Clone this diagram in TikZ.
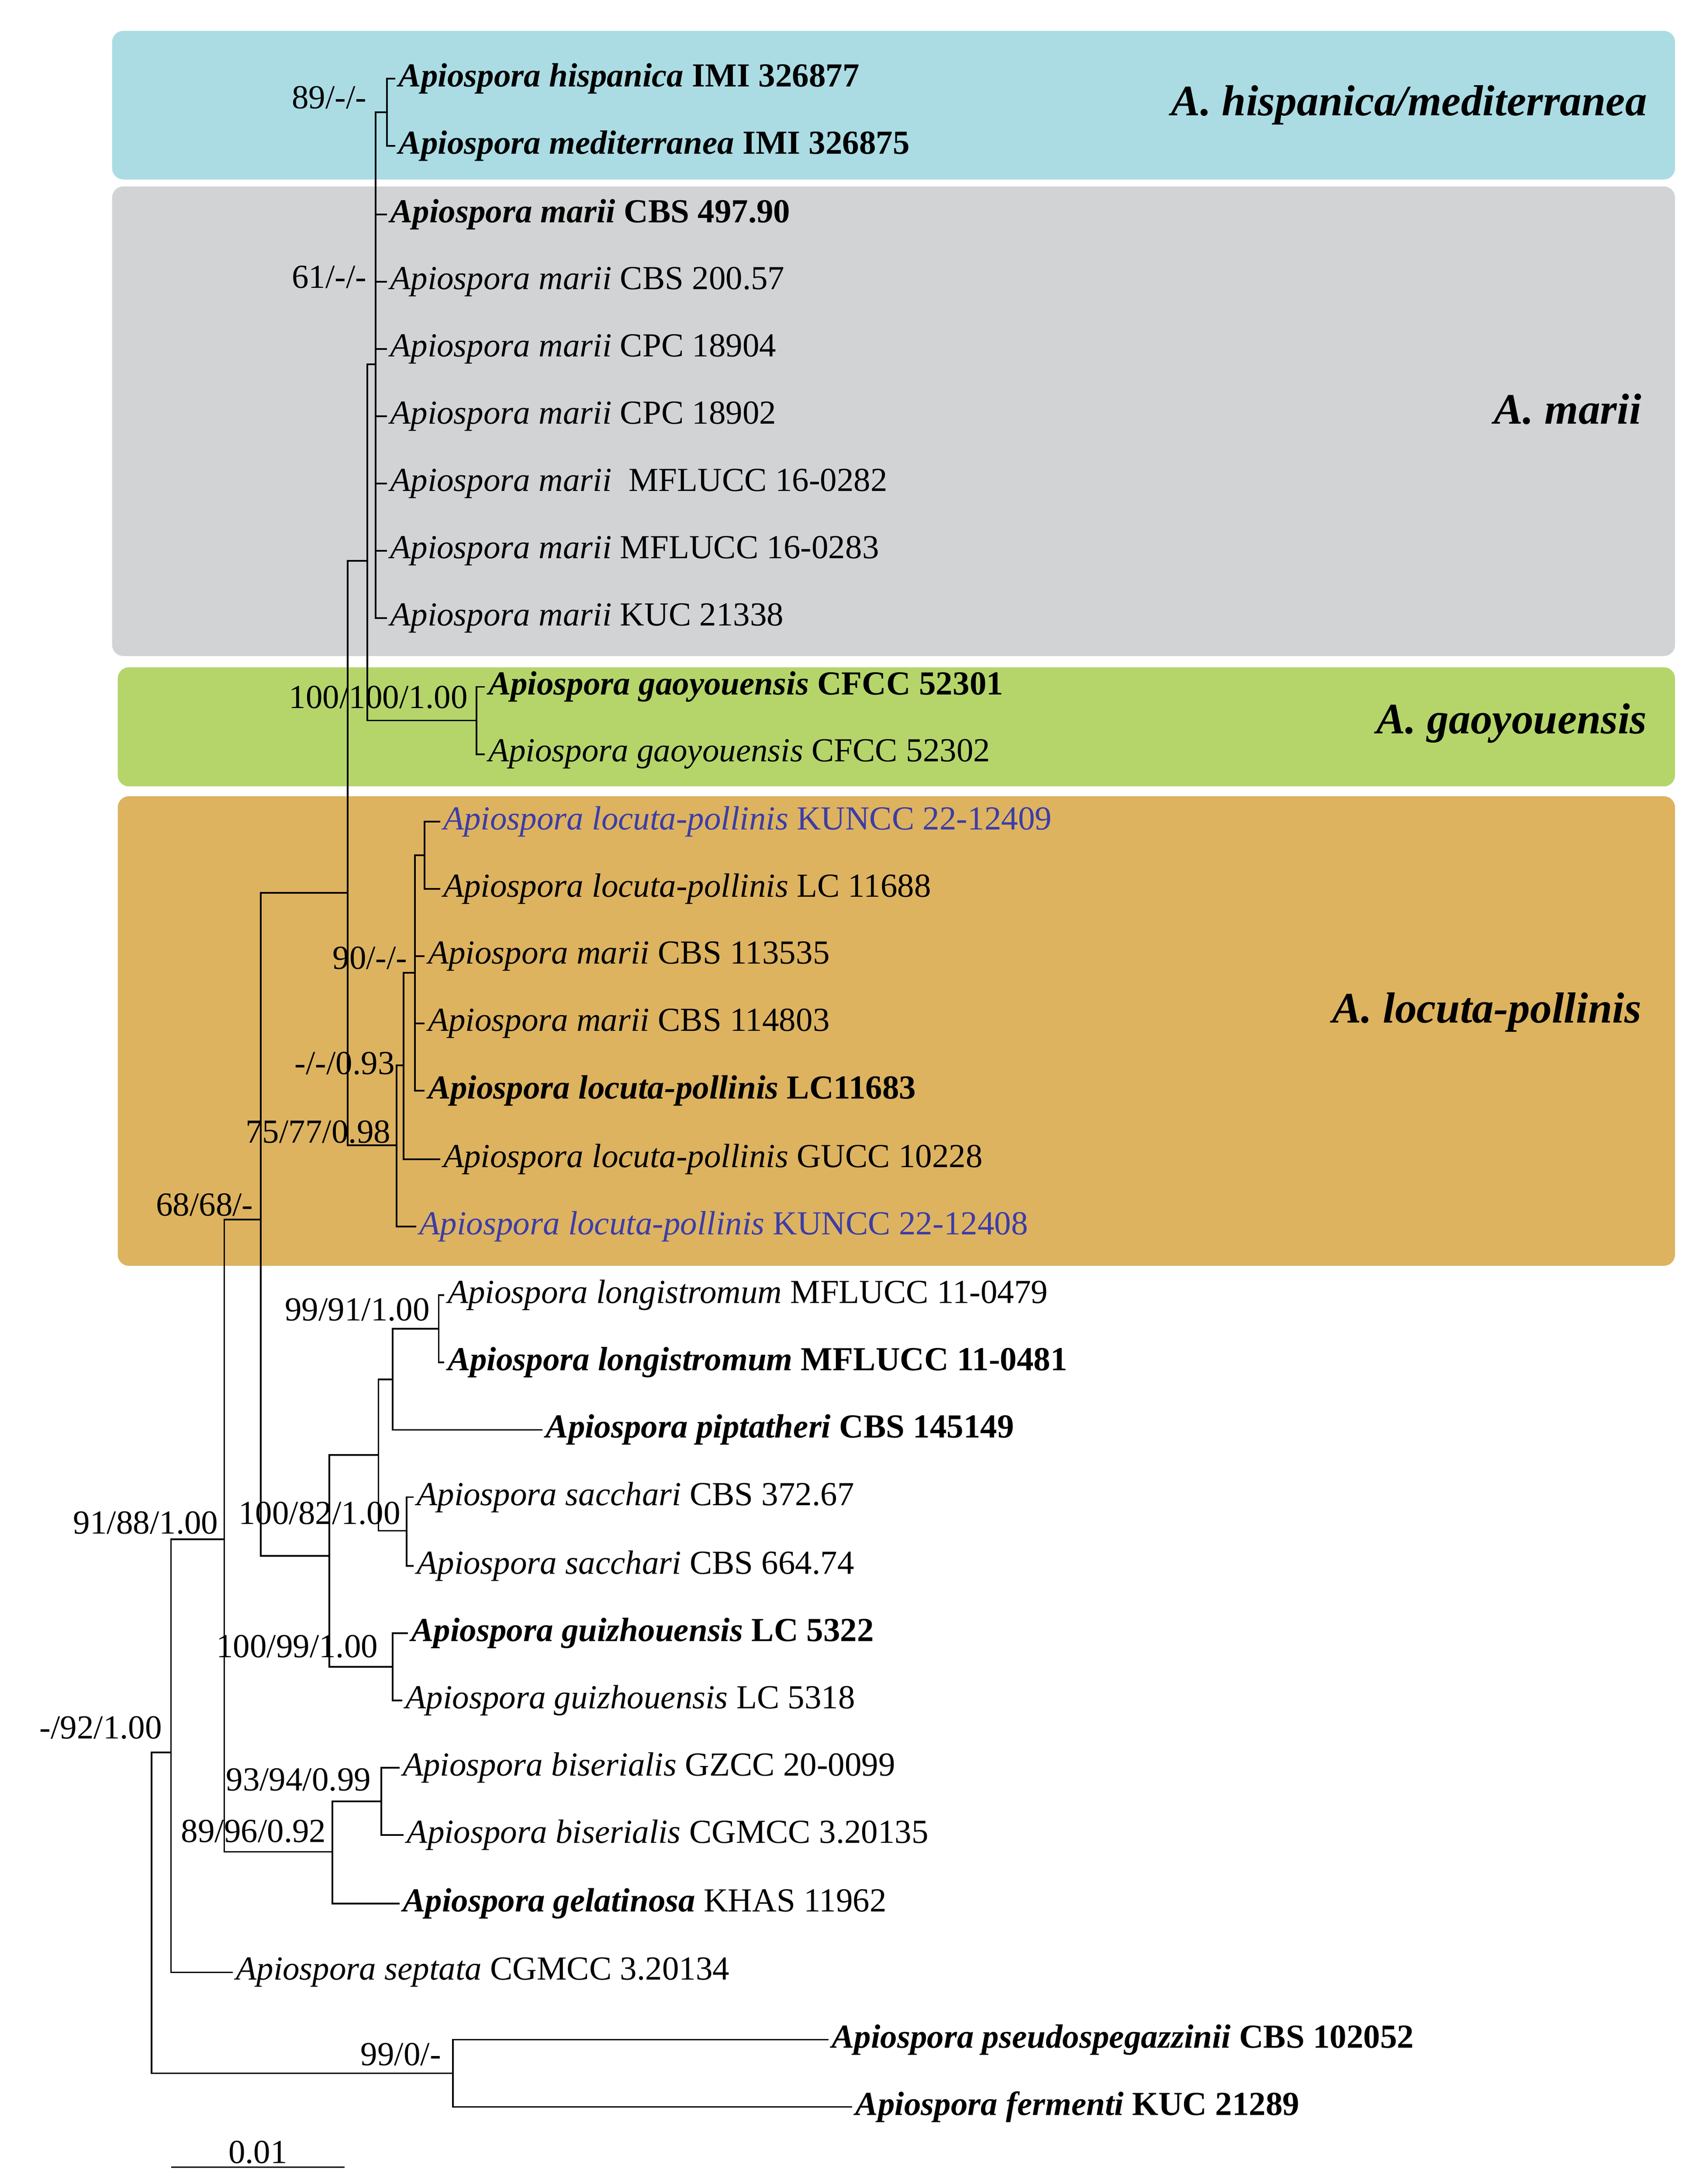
\documentclass[tikz,border=0pt]{standalone}
\usepackage{fontspec}
\setmainfont{Liberation Serif}
\usetikzlibrary{calc, positioning}
\definecolor{cladecyan}{HTML}{ABDCE4}
\definecolor{cladegray}{HTML}{D1D3D4}
\definecolor{cladegreen}{HTML}{B5D56B}
\definecolor{cladeorange}{HTML}{DDB360}
\definecolor{newblue}{HTML}{3C3CA8}
\tikzset{
  % tip label style
  tip/.style={
    anchor=west
    , inner sep=1pt
    , font=\fontsize{12}{14}\selectfont
  },
}
\tikzset{
  % support value style
  supp/.style={
    anchor=south east
    , inner sep=1pt
    , font=\fontsize{12}{14}\selectfont
  },
}
\tikzset{
  % clade box style
  cbox/.style={
    rounded corners=4pt
    , draw=none
  },
  clab/.style={
    anchor=east
    , font=\fontsize{15.5}{18}\selectfont\bfseries\itshape
  },
  br/.style={
    line width=0.6pt
  },
}
\newcommand{\Ap}[1]{\textit{Apiospora #1}}
\begin{document}
\begin{tikzpicture}[x=0.5pt,y=-0.5pt]
  \useasboundingbox (0,0) rectangle (1217,1558);
  % clade boxes
  \fill[cbox, cladecyan] (80,22) rectangle (1195,128);
  \fill[cbox, cladegray] (80,133) rectangle (1195,468);
  \fill[cbox, cladegreen] (84,476) rectangle (1195,561);
  \fill[cbox, cladeorange] (84,568) rectangle (1195,903);
  \node[clab] (lh) at (1182,75) {A. hispanica/mediterranea};
  \node[clab] (lm) at (1178,292) {A. marii};
  \node[clab] (lg) at (1182,516) {A. gaoyouensis};
  \node[clab] (ll) at (1178,722) {A. locuta-pollinis};
  % tips
  \node[tip] (t1) at (282,56) {\textbf{\Ap{hispanica} IMI 326877}};
  \node[tip] (t2) at (282,104) {\textbf{\Ap{mediterranea} IMI 326875}};
  \node[tip] (t3) at (276,153) {\textbf{\Ap{marii} CBS 497.90}};
  \node[tip] (t4) at (276,201) {\Ap{marii} CBS 200.57};
  \node[tip] (t5) at (276,249) {\Ap{marii} CPC 18904};
  \node[tip] (t6) at (276,297) {\Ap{marii} CPC 18902};
  \node[tip] (t7) at (276,345) {\Ap{marii} \ MFLUCC 16-0282};
  \node[tip] (t8) at (276,393) {\Ap{marii} MFLUCC 16-0283};
  \node[tip] (t9) at (276,441) {\Ap{marii} KUC 21338};
  \node[tip] (t10) at (346,490) {\textbf{\Ap{gaoyouensis} CFCC 52301}};
  \node[tip] (t11) at (346,538) {\Ap{gaoyouensis} CFCC 52302};
  \node[tip, text=newblue] (t12) at (314,586) {\Ap{locuta-pollinis} KUNCC 22-12409};
  \node[tip] (t13) at (314,634) {\Ap{locuta-pollinis} LC 11688};
  \node[tip] (t14) at (303,682) {\Ap{marii} CBS 113535};
  \node[tip] (t15) at (303,730) {\Ap{marii} CBS 114803};
  \node[tip] (t16) at (303,778) {\textbf{\Ap{locuta-pollinis} LC11683}};
  \node[tip] (t17) at (314,827) {\Ap{locuta-pollinis} GUCC 10228};
  \node[tip, text=newblue] (t18) at (297,875) {\Ap{locuta-pollinis} KUNCC 22-12408};
  \node[tip] (t19) at (317,924) {\Ap{longistromum} MFLUCC 11-0479};
  \node[tip] (t20) at (317,972) {\textbf{\Ap{longistromum} MFLUCC 11-0481}};
  \node[tip] (t21) at (387,1020) {\textbf{\Ap{piptatheri} CBS 145149}};
  \node[tip] (t22) at (295,1068) {\Ap{sacchari} CBS 372.67};
  \node[tip] (t23) at (295,1117) {\Ap{sacchari} CBS 664.74};
  \node[tip] (t24) at (291,1165) {\textbf{\Ap{guizhouensis} LC 5322}};
  \node[tip] (t25) at (287,1213) {\Ap{guizhouensis} LC 5318};
  \node[tip] (t26) at (285,1261) {\Ap{biserialis} GZCC 20-0099};
  \node[tip] (t27) at (288,1309) {\Ap{biserialis} CGMCC 3.20135};
  \node[tip] (t28) at (285,1358) {\textbf{\Ap{gelatinosa}} KHAS 11962};
  \node[tip] (t29) at (166,1407) {\Ap{septata} CGMCC 3.20134};
  \node[tip] (t30) at (591,1455) {\textbf{\Ap{pseudospegazzinii} CBS 102052}};
  \node[tip] (t31) at (608,1503) {\textbf{\Ap{fermenti} KUC 21289}};
  % internal nodes
  \coordinate (nH) at (276,80);
  \coordinate (nM) at (268,260);
  \coordinate (nG) at (340,514);
  \coordinate (nMG) at (262,400);
  \coordinate (nL1) at (303,610);
  \coordinate (nL2) at (296,694);
  \coordinate (nL3) at (288,760);
  \coordinate (nL4) at (283,817);
  \coordinate (nUp) at (248,637);
  \coordinate (nLG) at (313,948);
  \coordinate (nP) at (280,984);
  \coordinate (nS) at (290,1092);
  \coordinate (nPS) at (270,1038);
  \coordinate (nGu) at (280,1189);
  \coordinate (nC) at (235,1110);
  \coordinate (nA) at (186,870);
  \coordinate (nB) at (272,1285);
  \coordinate (nBG) at (237,1321);
  \coordinate (nD) at (160,1098);
  \coordinate (nE) at (122,1250);
  \coordinate (nF) at (323,1479);
  \coordinate (nR) at (108,1380);
  % branches
  \draw[br] (t1.west) -| (nH); \draw[br] (t2.west) -| (nH);
  \draw[br] (nH) -| (nM);
  \foreach \t in {t3,t4,t5,t6,t7,t8,t9} { \draw[br] (\t.west) -| (nM); }
  \draw[br] (t10.west) -| (nG); \draw[br] (t11.west) -| (nG);
  \draw[br] (nM) -| (nMG); \draw[br] (nG) -| (nMG);
  \draw[br] (t12.west) -| (nL1); \draw[br] (t13.west) -| (nL1);
  \draw[br] (nL1) -| (nL2);
  \foreach \t in {t14,t15,t16} { \draw[br] (\t.west) -| (nL2); }
  \draw[br] (nL2) -| (nL3); \draw[br] (t17.west) -| (nL3);
  \draw[br] (nL3) -| (nL4); \draw[br] (t18.west) -| (nL4);
  \draw[br] (nMG) -| (nUp); \draw[br] (nL4) -| (nUp);
  \draw[br] (t19.west) -| (nLG); \draw[br] (t20.west) -| (nLG);
  \draw[br] (nLG) -| (nP); \draw[br] (t21.west) -| (nP);
  \draw[br] (t22.west) -| (nS); \draw[br] (t23.west) -| (nS);
  \draw[br] (nP) -| (nPS); \draw[br] (nS) -| (nPS);
  \draw[br] (t24.west) -| (nGu); \draw[br] (t25.west) -| (nGu);
  \draw[br] (nPS) -| (nC); \draw[br] (nGu) -| (nC);
  \draw[br] (nUp) -| (nA); \draw[br] (nC) -| (nA);
  \draw[br] (t26.west) -| (nB); \draw[br] (t27.west) -| (nB);
  \draw[br] (nB) -| (nBG); \draw[br] (t28.west) -| (nBG);
  \draw[br] (nA) -| (nD); \draw[br] (nBG) -| (nD);
  \draw[br] (nD) -| (nE); \draw[br] (t29.west) -| (nE);
  \draw[br] (t30.west) -| (nF); \draw[br] (t31.west) -| (nF);
  \draw[br] (nE) -| (nR); \draw[br] (nF) -| (nR);
  % support values
  \node[supp] (s1) at (264,80) {89/-/-};
  \node[supp] (s2) at (264,208) {61/-/-};
  \node[supp] (s3) at (336,508) {100/100/1.00};
  \node[supp] (s4) at (293,694) {90/-/-};
  \node[supp] (s5) at (284,769) {-/-/0.93};
  \node[supp] (s6) at (281,818) {75/77/0.98};
  \node[supp] (s7) at (183,870) {68/68/-};
  \node[supp] (s8) at (309,945) {99/91/1.00};
  \node[supp] (s9) at (288,1090) {100/82/1.00};
  \node[supp] (s10) at (158,1097) {91/88/1.00};
  \node[supp] (s11) at (272,1185) {100/99/1.00};
  \node[supp] (s12) at (118,1243) {-/92/1.00};
  \node[supp] (s13) at (267,1280) {93/94/0.99};
  \node[supp] (s14) at (235,1317) {89/96/0.92};
  \node[supp] (s15) at (317,1476) {99/0/-};
  % scale bar
  \coordinate (sb1) at (122,1546);
  \coordinate (sb2) at (246,1546);
  \draw[br] (sb1) -- (sb2) node[midway, above=0pt, supp, anchor=south] (sbl) {0.01};
\end{tikzpicture}
\end{document}
